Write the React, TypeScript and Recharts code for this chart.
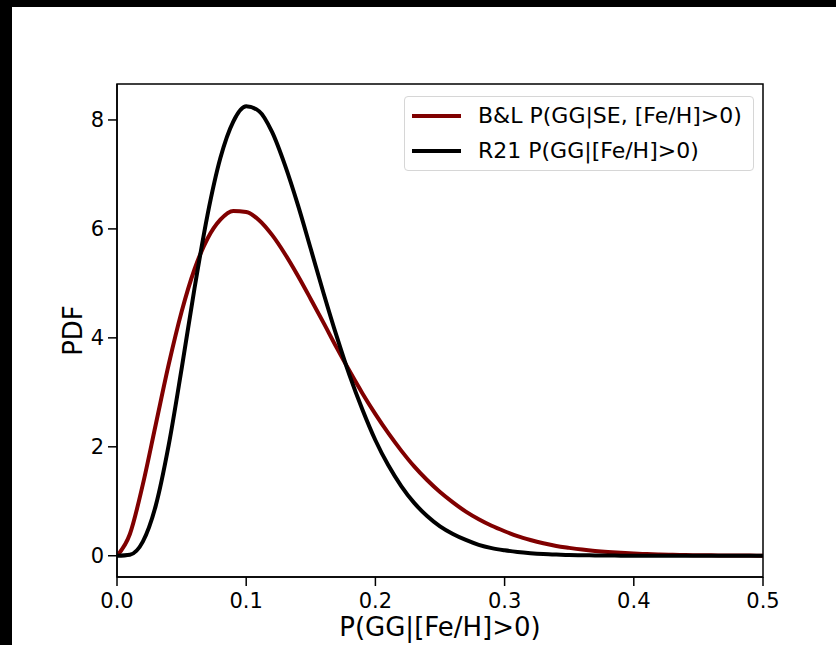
import React from 'react';
import { LineChart, Line, XAxis, YAxis, Legend, ReferenceArea } from 'recharts';

// P(GG|[Fe/H]>0) grid, read every 0.01
const X_VALUES = [
  0, 0.01, 0.02, 0.03, 0.04, 0.05, 0.06, 0.07, 0.08, 0.09,
  0.1, 0.11, 0.12, 0.13, 0.14, 0.15, 0.16, 0.17, 0.18, 0.19,
  0.2, 0.21, 0.22, 0.23, 0.24, 0.25, 0.26, 0.27, 0.28, 0.29,
  0.3, 0.31, 0.32, 0.33, 0.34, 0.35, 0.36, 0.37, 0.38, 0.39,
  0.4, 0.41, 0.42, 0.43, 0.44, 0.45, 0.46, 0.47, 0.48, 0.49, 0.5,
];

// B&L P(GG|SE, [Fe/H]>0)
const BL_PDF = [
  0, 0.4, 1.31, 2.41, 3.51, 4.48, 5.26, 5.82, 6.17, 6.33,
  6.31, 6.16, 5.89, 5.54, 5.14, 4.71, 4.27, 3.82, 3.39, 2.98,
  2.6, 2.25, 1.93, 1.64, 1.39, 1.17, 0.98, 0.81, 0.67, 0.55,
  0.45, 0.36, 0.29, 0.23, 0.18, 0.145, 0.114, 0.089, 0.069, 0.053,
  0.04, 0.031, 0.023, 0.017, 0.013, 0.0095, 0.007, 0.005, 0.0037, 0.0027, 0.0019,
];

// R21 P(GG|[Fe/H]>0)
const R21_PDF = [
  0, 0.02, 0.26, 0.92, 2.03, 3.43, 4.91, 6.25, 7.3, 7.97,
  8.25, 8.16, 7.78, 7.17, 6.44, 5.63, 4.81, 4.03, 3.31, 2.68,
  2.12, 1.66, 1.28, 0.97, 0.73, 0.54, 0.4, 0.29, 0.2, 0.14,
  0.1, 0.069, 0.047, 0.031, 0.021, 0.014, 0.009, 0.006, 0.004, 0.002,
  0.001, 0, 0, 0, 0, 0, 0, 0, 0, 0, 0,
];

const X_TICKS = [0, 0.1, 0.2, 0.3, 0.4, 0.5];
const Y_TICKS = [0, 2, 4, 6, 8];

const SERIES = [
  { key: 'bl', name: 'B&L P(GG|SE, [Fe/H]>0)', color: '#800000' },
  { key: 'r21', name: 'R21 P(GG|[Fe/H]>0)', color: '#000000' },
];

const FONT = '"DejaVu Sans", sans-serif';
const TICK = { fill: '#000', fontSize: 21, fontFamily: FONT };
const LINE_STYLE = { stroke: '#000', strokeWidth: 1.5 };

const data = X_VALUES.map((x, i) => ({ x, bl: BL_PDF[i], r21: R21_PDF[i] }));

function XLabel({ viewBox }: any) {
  const { x, y, width } = viewBox;
  return (
    <text x={x + width / 2} y={y + 59} textAnchor="middle" fontSize={26} fontFamily={FONT} fill="#000">
      P(GG|[Fe/H]&gt;0)
    </text>
  );
}

function YLabel({ viewBox }: any) {
  const { x, y, height } = viewBox;
  const cx = x + 73;
  const cy = y + height / 2;
  return (
    <text
      x={cx}
      y={cy}
      transform={`rotate(-90, ${cx}, ${cy})`}
      textAnchor="middle"
      dominantBaseline="central"
      fontSize={26}
      fontFamily={FONT}
      fill="#000"
    >
      PDF
    </text>
  );
}

function LegendBox() {
  return (
    <div
      style={{
        width: 350,
        height: 75,
        boxSizing: 'border-box',
        border: '1px solid #d6d6d6',
        borderRadius: 4,
        background: 'rgba(255,255,255,0.8)',
        paddingTop: 1,
        fontFamily: FONT,
        fontSize: 22,
        color: '#000',
      }}
    >
      {SERIES.map((s) => (
        <div key={s.key} style={{ display: 'flex', alignItems: 'center', height: 35 }}>
          <span style={{ display: 'inline-block', width: 49, height: 4, marginLeft: 7, marginRight: 17, background: s.color }} />
          <span style={{ whiteSpace: 'nowrap' }}>{s.name}</span>
        </div>
      ))}
    </div>
  );
}

export default function App() {
  return (
    <div style={{ position: 'fixed', top: 0, left: 0, width: 836, height: 645, background: '#fff', overflow: 'hidden' }}>
      <LineChart width={836} height={645} data={data} margin={{ top: 84, right: 73, bottom: 0, left: 0 }}>
        <XAxis
          dataKey="x"
          type="number"
          domain={[0, 0.5]}
          ticks={X_TICKS}
          allowDataOverflow
          height={68}
          tickSize={9}
          tickMargin={7}
          tick={TICK}
          tickLine={LINE_STYLE}
          axisLine={LINE_STYLE}
          tickFormatter={(v: number) => v.toFixed(1)}
          label={<XLabel />}
        />
        <YAxis
          type="number"
          domain={[-0.39, 8.66]}
          ticks={Y_TICKS}
          allowDataOverflow
          width={117}
          tickSize={9}
          tickMargin={4}
          tick={TICK}
          tickLine={LINE_STYLE}
          axisLine={LINE_STYLE}
          label={<YLabel />}
        />
        <ReferenceArea x1={0} x2={0.5} y1={-0.39} y2={8.66} fill="none" fillOpacity={0} stroke="#000" strokeWidth={1.5} />
        {SERIES.map((s) => (
          <Line
            key={s.key}
            type="monotone"
            dataKey={s.key}
            name={s.name}
            stroke={s.color}
            strokeWidth={4}
            dot={false}
            activeDot={false}
            isAnimationActive={false}
          />
        ))}
        <Legend
          layout="vertical"
          verticalAlign="middle"
          align="center"
          content={<LegendBox />}
          wrapperStyle={{ top: 96, left: 404, width: 350, height: 75 }}
        />
      </LineChart>
      <div style={{ position: 'absolute', top: 0, left: 0, width: 836, height: 7, background: '#000' }} />
      <div style={{ position: 'absolute', top: 0, left: 0, width: 12, height: 645, background: '#000' }} />
    </div>
  );
}
